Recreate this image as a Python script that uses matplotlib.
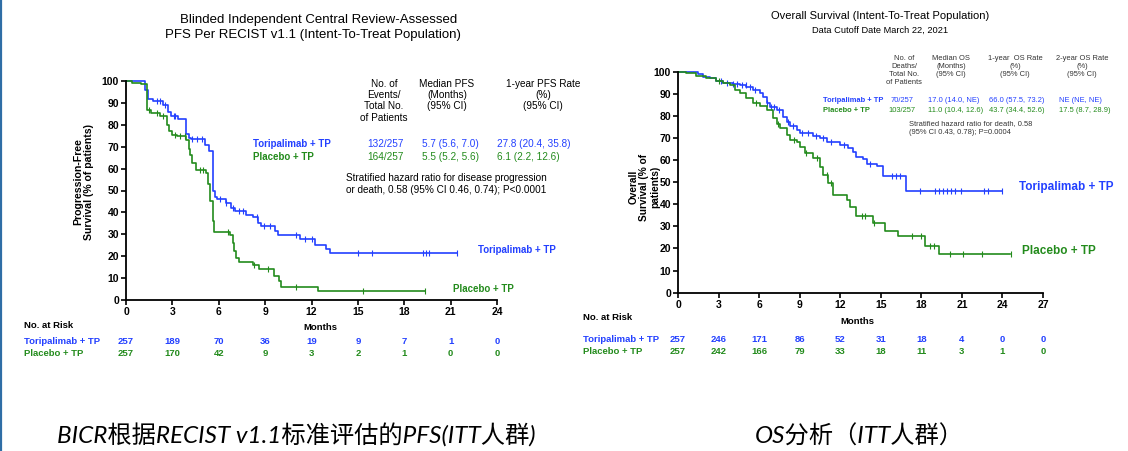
import numpy as np
import matplotlib
matplotlib.use("Agg")
import matplotlib.pyplot as plt
from matplotlib.transforms import blended_transform_factory
from matplotlib.lines import Line2D

plt.rcParams['font.family'] = ['Liberation Sans', 'Noto Sans CJK SC', 'DejaVu Sans']

W, H = 1128, 451
BLUE = '#2340ff'
GREEN = '#238b1c'

# ---- PFS (left) ----
pfs_tori_t = [0, 1.25, 1.45, 1.75, 2.4, 2.7, 2.92, 3.35, 3.9, 4.1, 4.2, 5.1, 5.35,
              5.62, 5.75, 5.9, 6.48, 6.81, 7.03, 7.78, 8.2, 8.54, 8.75, 9.62, 9.84,
              11.24, 12.22, 12.97, 13.19, 21.4]
pfs_tori_s = [100, 96, 92, 91, 89, 86, 84.2, 82.5, 76, 74, 73.4, 71, 68,
              50, 47, 46, 44.5, 42, 40.5, 39, 38, 35, 34, 31.5, 29.5,
              27.7, 25, 23.5, 21.3, 21.3]
pfs_tori_cens = [2.0, 2.2, 2.5, 3.1, 3.2, 4.3, 4.6, 4.9, 6.1, 6.5, 6.9, 7.3, 7.6,
                 8.5, 8.9, 9.3, 11.0, 11.6, 12.0, 15.0, 15.9, 19.2, 19.4, 19.6, 21.4]

pfs_pbo_t = [0, 0.4, 1.0, 1.34, 1.6, 2.2, 2.62, 2.75, 2.95, 3.3, 3.9, 4.05, 4.15,
             4.3, 4.5, 5.15, 5.3, 5.45, 5.6, 5.7, 6.7, 6.9, 7.0, 7.12, 7.3, 8.2,
             8.6, 9.6, 9.9, 10.05, 12.43, 19.35]
pfs_pbo_s = [100, 99, 98.5, 86.8, 85.2, 84, 80, 77, 75.5, 74.8, 73, 69, 66,
             62.5, 59.5, 58, 53, 45, 36, 31, 29.5, 26, 22.5, 19, 17.5, 16,
             14, 11, 8.5, 6, 4, 4]
pfs_pbo_cens = [1.5, 2.0, 2.4, 3.2, 3.5, 3.8, 4.8, 5.0, 6.6, 8.3, 9.2, 11.0, 15.35, 19.35]

pfs_ticks = [0, 3, 6, 9, 12, 15, 18, 21, 24]
pfs_risk_tori = [257, 189, 70, 36, 19, 9, 7, 1, 0]
pfs_risk_pbo = [257, 170, 42, 9, 3, 2, 1, 0, 0]

# ---- OS (right) ----
os_tori_t = [0, 1.48, 1.85, 2.35, 2.84, 3.33, 4.08, 4.57, 5.06, 5.56, 6.05, 6.3,
             6.55, 6.79, 7.29, 7.78, 8.03, 8.28, 8.77, 9.02, 10.0, 10.5, 11.0, 12.0,
             12.6, 12.97, 13.2, 13.7, 13.96, 14.7, 15.2, 16.9, 23.96]
os_tori_s = [100, 99, 97.5, 97, 96, 95, 94.5, 94, 93.3, 91.5, 90.5, 88.7,
             85.7, 83.9, 82.7, 79.6, 77.4, 75.4, 73.6, 72.2, 70.9, 69.8, 68.3, 66.8,
             65.3, 63.8, 61.5, 60.3, 58.2, 57.3, 52.8, 46, 46]
os_tori_cens = [3.2, 3.6, 4.1, 4.4, 4.7, 5.0, 5.3, 5.7, 6.6, 6.9, 7.1, 7.5, 8.1,
                8.5, 9.2, 9.6, 10.2, 10.7, 11.3, 12.3, 14.2, 15.8, 16.1, 16.4,
                17.9, 19.0, 19.3, 19.6, 19.9, 20.2, 20.5, 20.9, 22.6, 22.9, 24.0]

os_pbo_t = [0, 0.6, 1.36, 2.1, 2.84, 3.33, 3.83, 4.2, 4.57, 5.06, 5.56, 6.05,
            6.55, 7.04, 7.29, 7.53, 8.03, 8.28, 8.77, 9.02, 9.39, 10.0, 10.5, 10.75,
            11.12, 11.49, 12.48, 12.72, 13.2, 14.45, 15.3, 16.3, 18.28, 19.27, 24.58]
os_pbo_s = [100, 99.2, 98, 97.3, 96, 95, 94, 91.7, 90.2, 87.9, 85.7, 84.5,
            82.7, 78.9, 76.3, 74.4, 71.3, 69.1, 68.3, 65.8, 63, 60.8, 57, 53.2,
            49.5, 44.2, 41.9, 38.9, 34.7, 31.7, 28, 25.6, 21.1, 17.3, 17.3]
os_pbo_cens = [3.0, 5.8, 7.4, 8.6, 9.5, 10.3, 11.0, 11.3, 13.6, 13.8, 14.5,
               17.3, 18.0, 18.65, 18.9, 20.1, 21.1, 22.5, 24.6]

os_ticks = [0, 3, 6, 9, 12, 15, 18, 21, 24, 27]
os_risk_tori = [257, 246, 171, 86, 52, 31, 18, 4, 0, 0]
os_risk_pbo = [257, 242, 166, 79, 33, 18, 11, 3, 1, 0]


def fx(x):
    return x / W


def fy(y):
    return 1 - y / H


def km(ax, t, s, cens, color):
    t = np.asarray(t)
    s = np.asarray(s)
    ax.step(t, s, where='post', color=color, lw=1.2, clip_on=False)
    c = np.asarray(cens)
    idx = np.searchsorted(t, c, side='right') - 1
    ax.plot(c, s[np.clip(idx, 0, len(s) - 1)], ls='none', marker='|',
            ms=4.5, mew=0.8, color=color, clip_on=False)


def style_axes(ax, xmax, ticks):
    ax.set_xlim(0, xmax)
    ax.set_ylim(0, 100)
    ax.set_xticks(ticks)
    ax.set_yticks(range(0, 101, 10))
    for side in ('top', 'right'):
        ax.spines[side].set_visible(False)
    for side in ('left', 'bottom'):
        ax.spines[side].set_linewidth(1.3)
    ax.tick_params(direction='out', length=3.5, width=1.2, labelsize=7.5, pad=1.5)
    for lab in ax.get_xticklabels() + ax.get_yticklabels():
        lab.set_fontweight('bold')
    ax.patch.set_alpha(0)


def risk_rows(ax, ticks, tori, pbo, y1, y2):
    tr = blended_transform_factory(ax.transData, fig.transFigure)
    for x, a, b in zip(ticks, tori, pbo):
        ax.text(x, fy(y1), str(a), transform=tr, ha='center', va='center',
                fontsize=6.8, fontweight='bold', color=BLUE)
        ax.text(x, fy(y2), str(b), transform=tr, ha='center', va='center',
                fontsize=6.8, fontweight='bold', color=GREEN)


fig = plt.figure(figsize=(W / 100, H / 100), dpi=100)

# left border line
fig.add_artist(Line2D([fx(1), fx(1)], [0, 1], color='#2f6ea6', lw=1.6))

# ---------- left panel ----------
ax1 = fig.add_axes([fx(126), fy(300), fx(497) - fx(126), fy(81) - fy(300)])
km(ax1, pfs_tori_t, pfs_tori_s, pfs_tori_cens, BLUE)
km(ax1, pfs_pbo_t, pfs_pbo_s, pfs_pbo_cens, GREEN)
style_axes(ax1, 24, pfs_ticks)

fig.text(fx(319), fy(20), 'Blinded Independent Central Review-Assessed',
         ha='center', va='center', fontsize=9.5)
fig.text(fx(313), fy(35), 'PFS Per RECIST v1.1 (Intent-To-Treat Population)',
         ha='center', va='center', fontsize=9.5)
fig.text(fx(84), fy(182), 'Progression-Free\nSurvival (% of patients)',
         rotation=90, ha='center', va='center', fontsize=7.6,
         fontweight='bold', linespacing=1.1)

fig.text(fx(384), fy(79), 'No. of\nEvents/\nTotal No.\nof Patients', ha='center',
         va='top', fontsize=7.2, linespacing=1.15)
fig.text(fx(447), fy(79), 'Median PFS\n(Months)\n(95% CI)', ha='center',
         va='top', fontsize=7.2, linespacing=1.15)
fig.text(fx(543), fy(79), '1-year PFS Rate\n(%)\n(95% CI)', ha='center',
         va='top', fontsize=7.2, linespacing=1.15)
fig.text(fx(253), fy(144), 'Toripalimab + TP', ha='left', va='center',
         fontsize=7, fontweight='bold', color=BLUE)
fig.text(fx(253), fy(157), 'Placebo + TP', ha='left', va='center',
         fontsize=7, fontweight='bold', color=GREEN)
for txt, x, y, c in [('132/257', 385, 144, BLUE), ('164/257', 385, 157, GREEN)]:
    fig.text(fx(x), fy(y), txt, ha='center', va='center', fontsize=7.2, color=c)
for txt, y, c in [('5.7 (5.6, 7.0)', 144, BLUE), ('5.5 (5.2, 5.6)', 157, GREEN)]:
    fig.text(fx(422), fy(y), txt, ha='left', va='center', fontsize=7.2, color=c)
for txt, y, c in [('27.8 (20.4, 35.8)', 144, BLUE), ('6.1 (2.2, 12.6)', 157, GREEN)]:
    fig.text(fx(497), fy(y), txt, ha='left', va='center', fontsize=7.2, color=c)
fig.text(fx(346), fy(184), 'Stratified hazard ratio for disease progression\n'
         'or death, 0.58 (95% CI 0.46, 0.74); P<0.0001', ha='left', va='center',
         fontsize=7.2, linespacing=1.15)

fig.text(fx(478), fy(250), 'Toripalimab + TP', ha='left', va='center',
         fontsize=7, fontweight='bold', color=BLUE)
fig.text(fx(453), fy(289), 'Placebo + TP', ha='left', va='center',
         fontsize=7, fontweight='bold', color=GREEN)

fig.text(fx(24), fy(325), 'No. at Risk', ha='left', va='center', fontsize=6.8,
         fontweight='bold')
fig.text(fx(24), fy(341), 'Toripalimab + TP', ha='left', va='center',
         fontsize=6.8, fontweight='bold', color=BLUE)
fig.text(fx(24), fy(353), 'Placebo + TP', ha='left', va='center',
         fontsize=6.8, fontweight='bold', color=GREEN)
fig.text(fx(320), fy(327), 'Months', ha='center', va='center', fontsize=6.8,
         fontweight='bold')
risk_rows(ax1, pfs_ticks, pfs_risk_tori, pfs_risk_pbo, 341, 353)

# ---------- right panel ----------
ax2 = fig.add_axes([fx(678), fy(292.7), fx(1043) - fx(678), fy(71.7) - fy(292.7)])
km(ax2, os_tori_t, os_tori_s, os_tori_cens, BLUE)
km(ax2, os_pbo_t, os_pbo_s, os_pbo_cens, GREEN)
style_axes(ax2, 27, os_ticks)

fig.text(fx(880), fy(16), 'Overall Survival (Intent-To-Treat Population)',
         ha='center', va='center', fontsize=8)
fig.text(fx(880), fy(30), 'Data Cutoff Date March 22, 2021',
         ha='center', va='center', fontsize=6.7)
fig.text(fx(644), fy(187), 'Overall\nSurvival (% of\npatients)',
         rotation=90, ha='center', va='center', fontsize=7.3,
         fontweight='bold', linespacing=1.1)

for txt, x in [('No. of\nDeaths/\nTotal No.\nof Patients', 904),
               ('Median OS\n(Months)\n(95% CI)', 951),
               ('1-year  OS Rate\n(%)\n(95% CI)', 1015),
               ('2-year OS Rate\n(%)\n(95% CI)', 1082)]:
    fig.text(fx(x), fy(55), txt, ha='center', va='top', fontsize=5.4,
             linespacing=1.2, color='#333333')
fig.text(fx(823), fy(101), 'Toripalimab + TP', ha='left', va='center',
         fontsize=5.4, fontweight='bold', color=BLUE)
fig.text(fx(823), fy(110), 'Placebo + TP', ha='left', va='center',
         fontsize=5.4, fontweight='bold', color=GREEN)
for y, c, vals in [(101, BLUE, ['70/257', '17.0 (14.0, NE)', '66.0 (57.5, 73.2)', 'NE (NE, NE)']),
                   (110, GREEN, ['103/257', '11.0 (10.4, 12.6)', '43.7 (34.4, 52.6)', '17.5 (8.7, 28.9)'])]:
    fig.text(fx(902), fy(y), vals[0], ha='center', va='center', fontsize=5.4, color=c)
    fig.text(fx(928), fy(y), vals[1], ha='left', va='center', fontsize=5.4, color=c)
    fig.text(fx(989), fy(y), vals[2], ha='left', va='center', fontsize=5.4, color=c)
    fig.text(fx(1059), fy(y), vals[3], ha='left', va='center', fontsize=5.4, color=c)
fig.text(fx(909), fy(128), 'Stratified hazard ratio for death, 0.58\n'
         '(95% CI 0.43, 0.78); P=0.0004', ha='left', va='center', fontsize=5.4,
         linespacing=1.2, color='#333333')

fig.text(fx(1019), fy(187), 'Toripalimab + TP', ha='left', va='center',
         fontsize=8.5, fontweight='bold', color=BLUE)
fig.text(fx(1022), fy(251), 'Placebo + TP', ha='left', va='center',
         fontsize=8.5, fontweight='bold', color=GREEN)

fig.text(fx(583), fy(318), 'No. at Risk', ha='left', va='center', fontsize=6.8,
         fontweight='bold')
fig.text(fx(583), fy(340), 'Toripalimab + TP', ha='left', va='center',
         fontsize=6.8, fontweight='bold', color=BLUE)
fig.text(fx(583), fy(352), 'Placebo + TP', ha='left', va='center',
         fontsize=6.8, fontweight='bold', color=GREEN)
fig.text(fx(857), fy(322), 'Months', ha='center', va='center', fontsize=6.8,
         fontweight='bold')
risk_rows(ax2, os_ticks, os_risk_tori, os_risk_pbo, 340, 352)

# ---------- captions ----------
cap_font = ['Lato', 'Noto Sans CJK SC', 'DejaVu Sans']
fig.text(fx(57), fy(436), 'BICR根据RECIST v1.1标准评估的PFS(ITT人群)', ha='left',
         va='center', fontsize=17.5, style='italic', family=cap_font)
fig.text(fx(755), fy(436), 'OS分析（ITT人群）', ha='left', va='center',
         fontsize=17.5, style='italic', family=cap_font)

fig.savefig('out.png', dpi=100)
